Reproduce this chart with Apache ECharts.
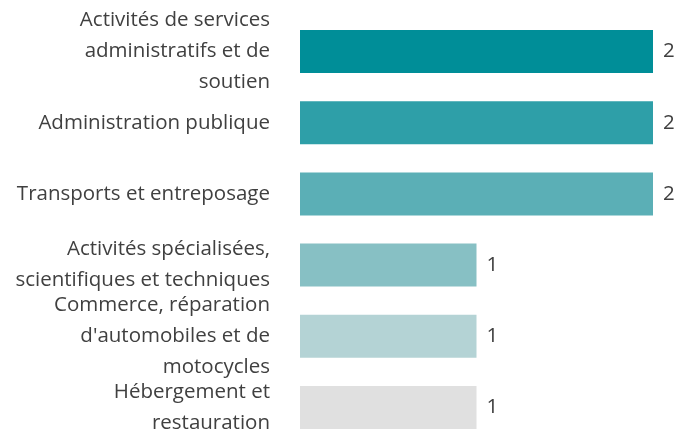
<!DOCTYPE html>
<html>
<head>
<meta charset="utf-8">
<script src="https://cdn.jsdelivr.net/npm/echarts@6/dist/echarts.min.js"></script>
<style>html,body{margin:0;padding:0;background:#fff;}#c{width:676px;height:432px;}</style>
</head>
<body>
<div id="c"></div>
<script>
const categories = [
  "Activités de services\nadministratifs et de\nsoutien",
  "Administration publique",
  "Transports et entreposage",
  "Activités spécialisées,\nscientifiques et techniques",
  "Commerce, réparation\nd'automobiles et de\nmotocycles",
  "Hébergement et\nrestauration"
];
const values = [2, 2, 2, 1, 1, 1];
const colors = ["#008E98", "#2E9FA8", "#5BAFB6", "#87C0C4", "#B4D3D5", "#E0E0E0"];

const chart = echarts.init(document.getElementById('c'), null, {renderer: 'canvas'});
chart.setOption({
  animation: false,
  grid: {left: 300, top: 16, right: 23, bottom: -11, containLabel: false, outerBoundsMode: 'none'},
  xAxis: {type: 'value', min: 0, max: 2, show: false},
  yAxis: {
    type: 'category', inverse: true, data: categories,
    axisLine: {show: false}, axisTick: {show: false}, splitLine: {show: false},
    axisLabel: {interval: 0, margin: 30, fontFamily: 'Open Sans', fontSize: 20.5, lineHeight: 31, color: '#404040', align: 'right', hideOverlap: false, padding: [2, 0, 0, 0]}
  },
  series: [{
    type: 'bar', barWidth: 43,
    data: values.map((v, i) => ({value: v, itemStyle: {color: colors[i]}})),
    label: {show: true, position: 'right', distance: 10, fontFamily: 'Open Sans', fontSize: 20.5, color: '#404040'}
  }]
});
</script>
</body>
</html>
